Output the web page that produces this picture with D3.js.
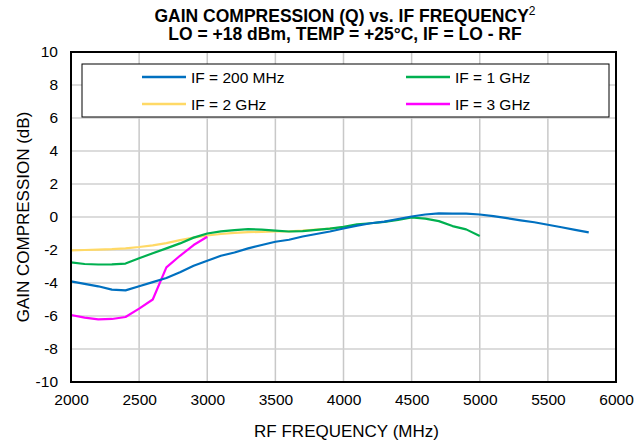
<!DOCTYPE html>
<html>
<head>
<meta charset="utf-8">
<script src="https://cdn.jsdelivr.net/npm/d3@7"></script>
<style>
  body { margin: 0; background: #fff; }
  svg { font-family: "Liberation Sans", Arial, sans-serif; }
</style>
</head>
<body>
<svg id="chart" width="637" height="442"></svg>
<script>
// frequencies (MHz) for each trace
var freq200 = d3.range(2000, 5801, 100);
var freq1g = d3.range(2000, 5001, 100);
var freq2g = d3.range(2000, 4001, 100);
var freq3g = d3.range(2000, 3001, 100);

// gain compression (dB)
var gain200 = [-3.9, -4.05, -4.2, -4.4, -4.45, -4.2, -3.95, -3.7, -3.35, -2.95, -2.65,
    -2.35, -2.15, -1.9, -1.7, -1.5, -1.38, -1.18, -1.03, -0.88, -0.7,
    -0.52, -0.38, -0.28, -0.12, 0.03, 0.15, 0.22, 0.2, 0.2, 0.15,
    0.05, -0.07, -0.2, -0.32, -0.47, -0.62, -0.78, -0.93];
var gain1g = [-2.75, -2.85, -2.88, -2.87, -2.82, -2.5, -2.2, -1.9, -1.6, -1.25, -1.0,
    -0.87, -0.8, -0.73, -0.77, -0.82, -0.88, -0.86, -0.78, -0.7, -0.6,
    -0.45, -0.38, -0.3, -0.18, -0.03, -0.1, -0.25, -0.55, -0.75, -1.15];
var gain2g = [-2.02, -2.0, -1.98, -1.95, -1.9, -1.82, -1.72, -1.58, -1.4, -1.25, -1.12,
    -1.03, -0.96, -0.92, -0.9, -0.88, -0.87, -0.83, -0.77, -0.7, -0.63];
var gain3g = [-5.94, -6.1, -6.2, -6.18, -6.06, -5.55, -5.0, -3.05, -2.35, -1.7, -1.2];

var seriesNames = ["IF = 200 MHz", "IF = 1 GHz", "IF = 2 GHz", "IF = 3 GHz"];
var seriesColors = ["#0070c0", "#00b050", "#ffd966", "#ff00ff"];

var xTicks = d3.range(2000, 6001, 500);
var yTicks = d3.range(-10, 11, 2);

var svg = d3.select("#chart");
var margin = {left: 71, right: 21, top: 52, bottom: 60};
var width = 637 - margin.left - margin.right,
    height = 442 - margin.top - margin.bottom;

var x = d3.scaleLinear().domain([2000, 6000]).range([0, width]);
var y = d3.scaleLinear().domain([-10, 10]).range([height, 0]);

var g = svg.append("g").attr("transform", "translate(" + margin.left + "," + margin.top + ")");

// grid
g.append("g").selectAll("line").data(xTicks).enter().append("line")
    .attr("x1", function(d) { return x(d); }).attr("x2", function(d) { return x(d); })
    .attr("y1", 0).attr("y2", height)
    .attr("stroke", "#c8c8c8").attr("stroke-width", 1.5);
g.append("g").selectAll("line").data(yTicks).enter().append("line")
    .attr("y1", function(d) { return y(d); }).attr("y2", function(d) { return y(d); })
    .attr("x1", 0).attr("x2", width)
    .attr("stroke", "#d0d0d0").attr("stroke-width", 1.5);

// axes (labels only) - plain hyphen for negatives, like the original
var plain = function(d) { return String(d); };
var xAxis = g.append("g").attr("transform", "translate(0," + height + ")")
    .call(d3.axisBottom(x).tickValues(xTicks).tickSize(0).tickPadding(12).tickFormat(plain));
var yAxis = g.append("g")
    .call(d3.axisLeft(y).tickValues(yTicks).tickSize(0).tickPadding(13).tickFormat(plain));
[xAxis, yAxis].forEach(function(a) {
    a.select(".domain").remove();
    a.selectAll("text").attr("font-size", 15.5).attr("fill", "#000")
        .attr("font-family", "Liberation Sans, Arial, sans-serif");
});

// traces
var traces = [
    {f: freq200, v: gain200},
    {f: freq1g, v: gain1g},
    {f: freq2g, v: gain2g},
    {f: freq3g, v: gain3g}
];
var line = d3.line().x(function(d) { return x(d[0]); }).y(function(d) { return y(d[1]); });
// draw 200 MHz last so it sits on top like the original
[2, 1, 3, 0].forEach(function(i) {
    g.append("path")
        .datum(d3.zip(traces[i].f, traces[i].v))
        .attr("fill", "none")
        .attr("stroke", seriesColors[i])
        .attr("stroke-width", 2.2)
        .attr("stroke-linejoin", "round")
        .attr("d", line);
});

// plot border
g.append("rect").attr("width", width).attr("height", height)
    .attr("fill", "none").attr("stroke", "#000").attr("stroke-width", 2);

// legend
var legend = svg.append("g").attr("transform", "translate(82,64)");
legend.append("rect").attr("width", 527).attr("height", 53)
    .attr("fill", "#fff").attr("stroke", "#000").attr("stroke-width", 1);
var legendPos = [[60, 13], [324, 13], [60, 40], [324, 40]];
seriesNames.forEach(function(name, i) {
    var p = legendPos[i];
    legend.append("line")
        .attr("x1", p[0]).attr("x2", p[0] + 44).attr("y1", p[1]).attr("y2", p[1])
        .attr("stroke", seriesColors[i]).attr("stroke-width", 2.4);
    legend.append("text")
        .attr("x", p[0] + 49).attr("y", p[1] + 5.5)
        .attr("font-size", 15.5).text(name);
});

// title
var title = svg.append("text").attr("x", 345).attr("y", 22)
    .attr("text-anchor", "middle").attr("font-size", 17.5).attr("font-weight", "bold");
title.append("tspan").text("GAIN COMPRESSION (Q) vs. IF FREQUENCY");
title.append("tspan").attr("font-weight", "normal").attr("font-size", 12)
    .attr("dy", -7).text("2");
svg.append("text").attr("x", 345).attr("y", 40)
    .attr("text-anchor", "middle").attr("font-size", 17.5).attr("font-weight", "bold")
    .text("LO = +18 dBm, TEMP = +25°C, IF = LO - RF");

// axis titles
svg.append("text").attr("x", margin.left + width / 2 + 3).attr("y", 437)
    .attr("text-anchor", "middle").attr("font-size", 17)
    .text("RF FREQUENCY (MHz)");
svg.append("text")
    .attr("transform", "translate(29," + (margin.top + height / 2) + ") rotate(-90)")
    .attr("text-anchor", "middle").attr("font-size", 17)
    .text("GAIN COMPRESSION (dB)");
</script>
</body>
</html>
